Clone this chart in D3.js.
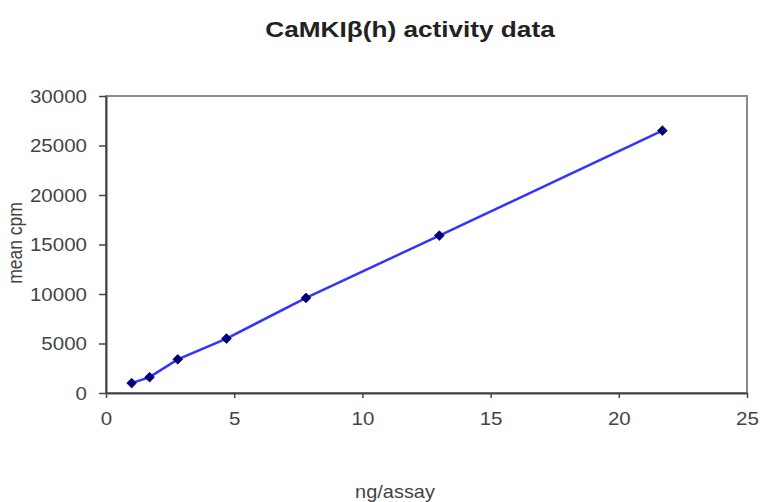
<!DOCTYPE html>
<html>
<head>
<meta charset="utf-8">
<script src="https://cdn.jsdelivr.net/npm/d3@7"></script>
<style>
  body { margin: 0; background: #fff; }
  text { font-family: Arial, "Liberation Sans", sans-serif; }
</style>
</head>
<body>
<script>
    // data
    var ngPerAssay = [1.0, 1.7, 2.8, 4.7, 7.8, 13.0, 21.7];
    var meanCpm = [1000, 1600, 3400, 5500, 9600, 15900, 26500];
    var xTicks = [0, 5, 10, 15, 20, 25];
    var yTicks = [0, 5000, 10000, 15000, 20000, 25000, 30000];

    var width = 760;
    var height = 502;
    var plotLeft = 106, plotRight = 747, plotTop = 96, plotBottom = 393;
    var stretch = 1.14; // the picture is a bit wider than tall

    var svg = d3.select('body')
        .append('svg')
        .attr('width', width)
        .attr('height', height);

    var xScale = d3.scaleLinear().domain([0, 25]).range([plotLeft, plotRight]);
    var yScale = d3.scaleLinear().domain([0, 30000]).range([plotBottom, plotTop]);

    // plot frame
    svg.append('rect')
        .attr('x', plotLeft)
        .attr('y', plotTop)
        .attr('width', plotRight - plotLeft)
        .attr('height', plotBottom - plotTop)
        .attr('fill', 'none')
        .attr('stroke', '#8a8a8a')
        .attr('stroke-width', 2);

    var xAxis = d3.axisBottom(xScale).tickValues(xTicks).tickSize(5).tickSizeOuter(0).tickPadding(6);
    var yAxis = d3.axisLeft(yScale).tickValues(yTicks).tickSize(7).tickSizeOuter(0)
        .tickFormat(d3.format('d'));

    var gx = svg.append('g')
        .attr('transform', 'translate(0,' + plotBottom + ')')
        .call(xAxis);
    var gy = svg.append('g')
        .attr('transform', 'translate(' + plotLeft + ',0)')
        .call(yAxis);

    [gx, gy].forEach(g => {
        g.select('.domain').attr('stroke', '#444').attr('stroke-width', 2);
        g.selectAll('.tick line').attr('stroke', '#444').attr('stroke-width', 1.5);
        g.selectAll('.tick text')
            .attr('fill', '#444')
            .style('font-size', '18px')
            .style('font-family', 'Arial, "Liberation Sans", sans-serif');
    });
    gx.selectAll('.tick text')
        .attr('y', 0)
        .attr('dy', 0)
        .attr('transform', 'translate(0,32) scale(' + stretch + ',1)');
    gy.selectAll('.tick text')
        .attr('x', 0)
        .attr('dy', '0.36em')
        .attr('transform', 'translate(-19,0) scale(' + stretch + ',1)');

    var pts = ngPerAssay.map((d, i) => [d, meanCpm[i]]);

    svg.append('path')
        .datum(pts)
        .attr('fill', 'none')
        .attr('stroke', '#3434ff')
        .attr('stroke-width', 2.5)
        .attr('d', d3.line().x(d => xScale(d[0])).y(d => yScale(d[1])));

    svg.selectAll('.pt')
        .data(pts)
        .enter()
        .append('path')
        .attr('class', 'pt')
        .attr('transform', d => 'translate(' + xScale(d[0]) + ',' + yScale(d[1]) + ')')
        .attr('d', d3.symbol().type(d3.symbolDiamond2).size(60))
        .attr('fill', '#000080')
        .attr('stroke', '#000040')
        .attr('stroke-width', 0.8);

    svg.append('text')
        .attr('transform', 'translate(410,37) scale(1.19,1)')
        .attr('text-anchor', 'middle')
        .style('font-size', '22px')
        .style('font-weight', 'bold')
        .attr('fill', '#222')
        .text('CaMKIβ(h) activity data');

    svg.append('text')
        .attr('transform', 'translate(22,243) scale(' + stretch + ',1) rotate(-90)')
        .attr('text-anchor', 'middle')
        .style('font-size', '17.5px')
        .attr('fill', '#444')
        .text('mean cpm');

    svg.append('text')
        .attr('transform', 'translate(395,498) scale(' + stretch + ',1)')
        .attr('text-anchor', 'middle')
        .style('font-size', '17.5px')
        .attr('fill', '#444')
        .text('ng/assay');
</script>
</body>
</html>
